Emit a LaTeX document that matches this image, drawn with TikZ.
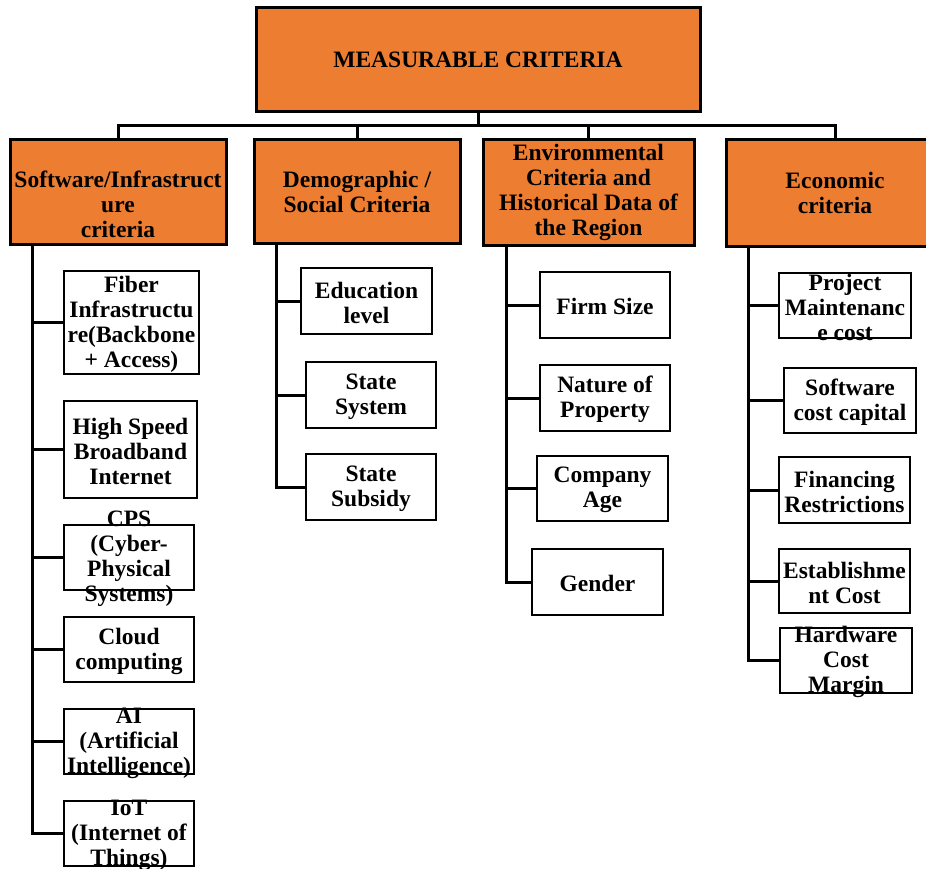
\documentclass[tikz,border=0pt]{standalone}
\usepackage{fontspec}
\setmainfont{Liberation Serif}
\definecolor{boxorange}{HTML}{ED7D31}
\tikzset{
    head/.style={draw,line width=3pt,fill=boxorange,inner sep=0pt},
    leaf/.style={draw,line width=2.5pt,fill=white,inner sep=0pt},
    txt/.style={align=center,inner sep=0pt,font=\fontsize{23.5}{25}\selectfont\bfseries},
    link/.style={line width=3pt}
}
\begin{document}
\begin{tikzpicture}[x=1pt,y=-1pt]
    \useasboundingbox (0,0) rectangle (926,869);
    \clip (0,0) rectangle (926,869);
    % top level
    \node[head,minimum width=444,minimum height=104] (root) at (478,60) {};
    \node[txt] (root-txt) at (root) {MEASURABLE CRITERIA};
    \foreach \n/\x/\y/\w/\h in {
        h1/118/192/216/104,
        h2/357/191.5/206/103,
        h3/588.5/192.5/211/105,
        h4/835/193/218/106}{
            \node[head,minimum width=\w,minimum height=\h] (\n) at (\x,\y) {};
    }
    \node[txt] (h1-txt) at ([yshift=-12]h1.center) {Software/Infrastruct\\ure\\criteria};
    \node[txt] (h2-txt) at (h2) {Demographic /\\Social Criteria};
    \node[txt] (h3-txt) at (h3) {Environmental\\Criteria and\\Historical Data of\\the Region};
    \node[txt] (h4-txt) at (h4) {Economic\\criteria};
    % sub criteria
    \foreach \n/\x/\y/\w/\h/\t in {
        fiber/131.5/322.5/135/103/{Fiber\\Infrastructu\\re(Backbone\\+ Access)},
        speed/130.5/449.5/133/97/{High Speed\\Broadband\\Internet},
        cps/129/557.5/130/65/{CPS\\(Cyber-\\Physical\\Systems)},
        cloud/129/649.5/130/65/{Cloud\\computing},
        ai/129/741.5/130/65/{AI\\(Artificial\\Intelligence)},
        iot/129/833.5/130/65/{IoT\\(Internet of\\Things)},
        edu/366.5/301/131/66/{Education\\level},
        ssys/371/395/130/66/{State\\System},
        ssub/371/487/130/66/{State\\Subsidy},
        firm/605/305/130/66/{Firm Size},
        nature/605/398/130/66/{Nature of\\Property},
        age/602.5/488.5/131/65/{Company\\Age},
        gender/597.5/582/131/66/{Gender},
        maint/845/305.5/132/65/{Project\\Maintenanc\\e cost},
        swcost/850/400.5/132/65/{Software\\cost capital},
        finance/844.5/490/131/66/{Financing\\Restrictions},
        estab/844.5/581/131/64/{Establishme\\nt Cost},
        hw/846/660.5/132/65/{Hardware\\Cost\\Margin}}{
            \node[leaf,minimum width=\w,minimum height=\h] (\n) at (\x,\y) {};
            \node[txt] (\n-txt) at ([yshift=-1.5]\n.center) {\t};
    }
    % connectors
    \coordinate (bus) at (478,126);
    \draw[link] (root.south) -- (bus);
    \draw[link] (h1.north) |- (bus) -| (h4.north);
    \draw[link] (bus) -| (h2.north);
    \draw[link] (bus) -| (h3.north);
    \coordinate (s1) at (32,244);
    \coordinate (s2) at (276,243);
    \coordinate (s3) at (506,245);
    \coordinate (s4) at (748,246);
    \draw[link] (s1) |- (iot.west);
    \draw[link] (s2) |- (ssub.west);
    \draw[link] (s3) |- (gender.west);
    \draw[link] (s4) |- (hw.west);
    \foreach \c in {fiber,speed,cps,cloud,ai}
        \draw[link] (s1 |- \c.west) -- (\c.west);
    \foreach \c in {edu,ssys}
        \draw[link] (s2 |- \c.west) -- (\c.west);
    \foreach \c in {firm,nature,age}
        \draw[link] (s3 |- \c.west) -- (\c.west);
    \foreach \c in {maint,swcost,finance,estab}
        \draw[link] (s4 |- \c.west) -- (\c.west);
\end{tikzpicture}
\end{document}
